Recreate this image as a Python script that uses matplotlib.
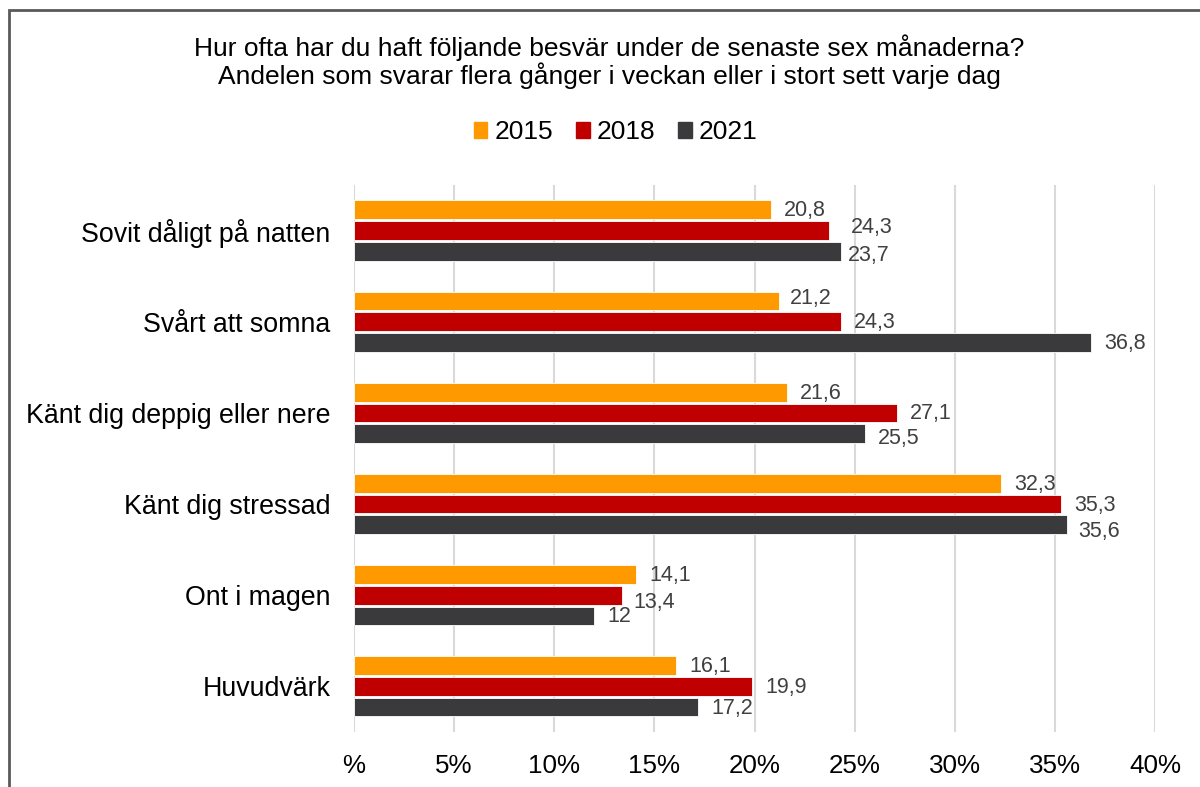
import matplotlib.pyplot as plt
import numpy as np
from matplotlib.patches import Patch, Rectangle

plt.rcParams['font.family'] = ['Liberation Sans', 'DejaVu Sans']

categories = ["Sovit dåligt på natten", "Svårt att somna", "Känt dig deppig eller nere",
              "Känt dig stressad", "Ont i magen", "Huvudvärk"]
years = ["2015", "2018", "2021"]
# bar lengths as drawn in the original
v2015 = [20.8, 21.2, 21.6, 32.3, 14.1, 16.1]
v2018 = [23.7, 24.3, 27.1, 35.3, 13.4, 19.9]
v2021 = [24.3, 36.8, 25.5, 35.6, 12, 17.2]
# the original prints these two labels the other way round from the bars
printed = {(0, 1): 24.3, (0, 2): 23.7}
x_ticks = [0, 5, 10, 15, 20, 25, 30, 35, 40]
x_ticklabels = ["%", "5%", "10%", "15%", "20%", "25%", "30%", "35%", "40%"]

colors = ["#FF9900", "#C00000", "#3A393B"]

# a few labels sit a bit off their default place in the original (pixels)
nudges = {(0, 1): (22, -3), (0, 2): (7, 4), (1, 0): (11, -3), (2, 2): (13, 5),
          (3, 2): (11, 7), (4, 1): (11, 7)}

fig = plt.figure(figsize=(12, 7.87), dpi=100)
ax = fig.add_axes([0.295, 0.0699, 0.6675, 0.6951])

y = np.arange(len(categories))
pitch = 0.227
series = [v2015, v2018, v2021]
for i, vals in enumerate(series):
    pos = y + (i - 1) * pitch
    ax.barh(pos, vals, height=0.205, color=colors[i], edgecolor="white",
            linewidth=0.6, zorder=3, label=years[i])
    for j, v in enumerate(vals):
        dx, dy = nudges.get((j, i), (13, 1))
        txt = f"{printed.get((j, i), v):g}".replace(".", ",")
        ax.annotate(txt, (v, pos[j]), xytext=(dx, -dy),
                    textcoords="offset pixels", ha="left", va="center",
                    fontsize=15.5, color="#404040")

ax.set_xlim(0, 40)
ax.set_ylim(5.5, -0.5)
ax.set_xticks(x_ticks)
ax.set_xticklabels(x_ticklabels, fontsize=18.7)
ax.set_yticks(y)
ax.set_yticklabels(categories, fontsize=19.3)
ax.tick_params(axis="x", length=0, pad=16)
ax.tick_params(axis="y", length=0, pad=17)
ax.xaxis.grid(True, color="#D9D9D9", linewidth=1.5, zorder=0)
ax.set_axisbelow(True)
for s in ax.spines.values():
    s.set_visible(False)

fig.text(0.508, 0.922, "Hur ofta har du haft följande besvär under de senaste sex månaderna?\n"
         "Andelen som svarar flera gånger i veckan eller i stort sett varje dag",
         ha="center", va="center", fontsize=19, linespacing=1.04)

handles = [Patch(color=c) for c in colors]
fig.legend(handles, years, loc="center", bbox_to_anchor=(0.513, 0.832), ncol=3,
           frameon=False, fontsize=19, handlelength=0.53, handleheight=0.53,
           handletextpad=0.27, columnspacing=0.85)

fig.patches.append(Rectangle((8.5 / 1200, -0.1), 1.2, 1.1 - 10 / 787, transform=fig.transFigure,
                             fill=False, edgecolor="#595959", linewidth=2, clip_on=False))

fig.savefig("out.png", dpi=100)
